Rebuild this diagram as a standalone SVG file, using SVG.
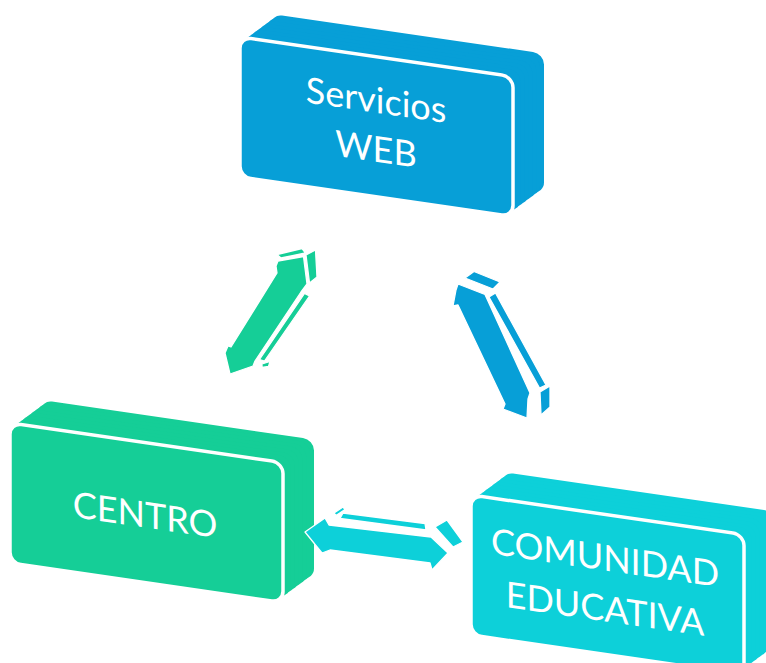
<svg xmlns="http://www.w3.org/2000/svg" xmlns:xlink="http://www.w3.org/1999/xlink" width="766" height="663" viewBox="0 0 766 663">
<style>
.blue{fill:#079fd7}
.green{fill:#15ce97}
.cyan{fill:#0dd0d9}
.front{stroke:#fff;stroke-width:3.5}
.lbl{fill:#fff;font-family:Lato,"Open Sans","Liberation Sans",sans-serif;font-size:36px;text-anchor:middle}
.arr polygon{stroke:#fff;stroke-width:1.3;stroke-linejoin:round}
</style>
<defs>
<rect id="face" width="273" height="140" rx="11"/>
<g id="ext">
<use xlink:href="#face" transform="translate(31,-23) skewY(8.25)"/>
<use xlink:href="#face" transform="translate(27.1,-20.1) skewY(8.25)"/>
<use xlink:href="#face" transform="translate(23.25,-17.25) skewY(8.25)"/>
<use xlink:href="#face" transform="translate(19.4,-14.4) skewY(8.25)"/>
<use xlink:href="#face" transform="translate(15.5,-11.5) skewY(8.25)"/>
<use xlink:href="#face" transform="translate(11.6,-8.6) skewY(8.25)"/>
<use xlink:href="#face" transform="translate(7.75,-5.75) skewY(8.25)"/>
<use xlink:href="#face" transform="translate(3.9,-2.9) skewY(8.25)"/>
</g>
</defs>
<rect width="766" height="663" fill="#fff"/>

<g id="connectors">
<g id="arrow-centro-servicios" class="arr green">
<polygon points="277,254.5 302,248.5 305.5,253 281,258"/>
<polygon points="306,255 315.5,250 317,277 309.5,283"/>
<polygon points="304.5,293.5 309.5,296 264.5,361 259.5,359.5"/>
<polygon points="262,364 270,361.5 268.5,366.5 262,367.5"/>
<polygon points="278,261 303.5,256.5 307,284 301,292 255,361 253,366 230,374 225,353 228,346 231,347 277,273 276,266"/>
</g>
<g id="arrow-servicios-comunidad" class="arr blue">
<polygon points="465,278 474,271.5 500,282 493,289"/>
<polygon points="489,297 495.5,293 546,385 539.5,388"/>
<polygon points="540,392 550,386 550,407 541,415"/>
<polygon points="458,284 485,294.5 530,393 528,399 527,418 503,409 505,404 458,305 453,306 456,290"/>
</g>
</g>

<g id="node-servicios" class="blue" transform="translate(240,37)">
<use xlink:href="#ext"/>
<use xlink:href="#face" class="front" transform="skewY(8.25)"/>
<g transform="skewY(8.25)">
<text class="lbl" x="136" y="56">Servicios</text>
<text class="lbl" x="136" y="105">WEB</text>
</g>
</g>

<g id="node-centro" class="green" transform="translate(10,423)">
<use xlink:href="#ext"/>
<use xlink:href="#face" class="front" transform="skewY(8.25)"/>
<g transform="skewY(8.25)">
<text class="lbl" x="135" y="85">CENTRO</text>
</g>
</g>

<g id="node-comunidad" class="cyan" transform="translate(471,495)">
<use xlink:href="#ext"/>
<use xlink:href="#face" class="front" transform="skewY(8.25)"/>
<g transform="skewY(8.25)">
<text class="lbl" x="134" y="56">COMUNIDAD</text>
<text class="lbl" x="134" y="107">EDUCATIVA</text>
</g>
</g>

<g id="connector-centro-comunidad" class="arr cyan">
<polygon points="334,513 343,507 345,509.5 336,515.5"/>
<polygon points="343,513 425,523.5 426,530 340,518.5"/>
<polygon points="435,527 447,520 463,542 453,547"/>
<polygon points="305,532 325,518 329,525 431,537 448,553 432,570 430,563 330,550 322,553"/>
</g>
</svg>
